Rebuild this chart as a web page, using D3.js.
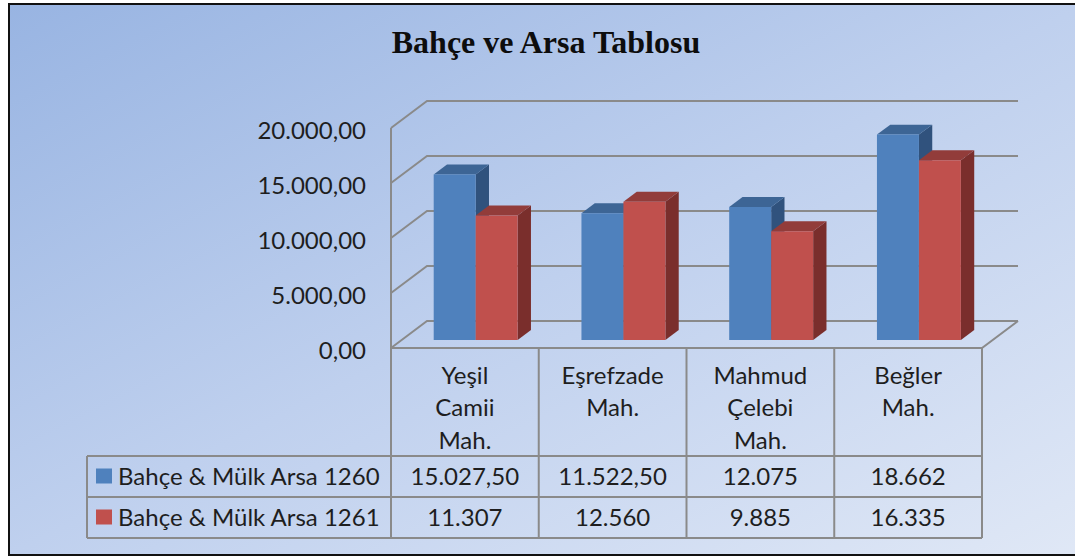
<!DOCTYPE html>
<html>
<head>
<meta charset="utf-8">
<script src="https://cdn.jsdelivr.net/npm/d3@7"></script>
<style>
  html, body { margin: 0; padding: 0; background: #ffffff; }
  svg { display: block; }
</style>
</head>
<body>
<svg id="chart" width="1075" height="556"></svg>
<script>
// Chart data
const title = "Bahçe ve Arsa Tablosu";
const categories = ["Yeşil Camii Mah.", "Eşrefzade Mah.", "Mahmud Çelebi Mah.", "Beğler Mah."];
const seriesNames = ["Bahçe & Mülk Arsa 1260", "Bahçe & Mülk Arsa 1261"];
const values1260 = [15027.5, 11522.5, 12075, 18662];
const values1261 = [11307, 12560, 9885, 16335];
const yTicks = [0, 5000, 10000, 15000, 20000];

const seriesValues = [values1260, values1261];
const palette = [
  { front: "#4f81bd", top: "#3d6595", side: "#30527d" },
  { front: "#c0504d", top: "#923c3a", side: "#7a2e2c" }
];

// Turkish number formatting (1.234,50)
const tr = d3.formatLocale({ decimal: ",", thousands: ".", grouping: [3], currency: ["", " ₺"] });
const axisFmt = tr.format(",.2f");
const cellFmt = v => (Number.isInteger(v) ? tr.format(",.0f")(v) : tr.format(",.2f")(v));

const svg = d3.select("#chart");
const FONT = "Lato, 'Open Sans', sans-serif";
const GRID = "#8a8a8a";

// Background with diagonal gradient and frame
const defs = svg.append("defs");
const bg = defs.append("linearGradient").attr("id", "bgGrad")
  .attr("x1", "0").attr("y1", "0").attr("x2", "1").attr("y2", "1");
bg.append("stop").attr("offset", "0").attr("stop-color", "#98b4e2");
bg.append("stop").attr("offset", "0.5").attr("stop-color", "#bfd0ee");
bg.append("stop").attr("offset", "1").attr("stop-color", "#e0e8f6");

svg.append("rect").attr("x", 9).attr("y", 4).attr("width", 1080).attr("height", 551)
  .attr("fill", "url(#bgGrad)").attr("stroke", "#111").attr("stroke-width", 2);

// Title
svg.append("text")
  .attr("x", 546).attr("y", 53)
  .attr("text-anchor", "middle")
  .style("font-family", "'Liberation Serif', 'Times New Roman', serif")
  .style("font-weight", "bold")
  .style("font-size", "32px")
  .attr("fill", "#0d0d0d")
  .text(title);

// 3D projection: front plane scales plus an oblique depth offset
const plotLeft = 391, plotRight = 982;
const DX = 36, DY = 27;
const y = d3.scaleLinear().domain([0, 20000]).range([348, 128]);
const x0 = d3.scaleBand().domain(categories).range([plotLeft, plotRight]).padding(0);
const x1 = d3.scaleBand().domain(seriesNames).range([0, x0.bandwidth()])
  .paddingInner(0).paddingOuter(0.76);
const proj = (x, v, z) => [x + z * DX, y(v) - z * DY];
const line = d3.line();

const walls = svg.append("g").attr("fill", "none").attr("stroke", GRID).attr("stroke-width", 2);

// Side wall diagonals and back wall gridlines
yTicks.forEach(t => {
  walls.append("path").attr("d", line([proj(plotLeft, t, 0), proj(plotLeft, t, 1), proj(plotRight, t, 1)]));
});
// Left front edge of the side wall
walls.append("path").attr("d", line([proj(plotLeft, d3.max(yTicks), 0), proj(plotLeft, 0, 0)]));
// Floor front edge and right diagonal
walls.append("path").attr("d", line([proj(plotLeft, 0, 0), proj(plotRight, 0, 0), proj(plotRight, 0, 1)]));

// Value axis labels on the front plane
const yAxis = d3.axisLeft(y).tickValues(yTicks).tickFormat(axisFmt).tickSize(0).tickPadding(25);
const axisG = svg.append("g").attr("transform", `translate(${plotLeft},0)`).call(yAxis);
axisG.select(".domain").remove();
axisG.selectAll("text")
  .attr("dy", "0.44em")
  .style("font-family", FONT).style("font-size", "24px").attr("fill", "#1e1e1e");

// Bars
const Z0 = 0.3, Z1 = 0.67;
const barsG = svg.append("g");
categories.forEach((cat, ci) => {
  seriesNames.forEach((s, si) => {
    const v = seriesValues[si][ci];
    const xa = x0(cat) + x1(s);
    const xb = xa + x1.bandwidth();
    const col = palette[si];
    const g = barsG.append("g");
    g.append("path").attr("fill", col.side)
      .attr("d", line([proj(xb, 0, Z0), proj(xb, v, Z0), proj(xb, v, Z1), proj(xb, 0, Z1)]) + "Z");
    g.append("path").attr("fill", col.top)
      .attr("d", line([proj(xa, v, Z0), proj(xb, v, Z0), proj(xb, v, Z1), proj(xa, v, Z1)]) + "Z");
    g.append("path").attr("fill", col.front)
      .attr("d", line([proj(xa, 0, Z0), proj(xb, 0, Z0), proj(xb, v, Z0), proj(xa, v, Z0)]) + "Z");
  });
});

// Data table under the plot
const tableLeft = 87;
const headTop = y(0), headBottom = 456, rowH = 41;
const rowTops = [headBottom, headBottom + rowH];
const tableBottom = headBottom + 2 * rowH;
const tbl = svg.append("g").attr("fill", "none").attr("stroke", GRID).attr("stroke-width", 2);

const colEdges = categories.map(c => x0(c)).concat([plotRight]);
colEdges.forEach(xe => {
  tbl.append("path").attr("d", line([[xe, headTop], [xe, tableBottom]]));
});
[headBottom, headBottom + rowH, tableBottom].forEach(yy => {
  tbl.append("path").attr("d", line([[tableLeft, yy], [plotRight, yy]]));
});
tbl.append("path").attr("d", line([[tableLeft, headBottom], [tableLeft, tableBottom]]));

const txt = svg.append("g").style("font-family", FONT).style("font-size", "24px").attr("fill", "#1e1e1e");

// Category headers, wrapped word by word
categories.forEach(cat => {
  const cx = x0(cat) + x0.bandwidth() / 2;
  cat.split(" ").forEach((w, li) => {
    txt.append("text").attr("x", cx).attr("y", 375 + li * 32.5)
      .attr("text-anchor", "middle").attr("dy", "0.36em").text(w);
  });
});

// Series rows: legend key, name, values
seriesNames.forEach((s, si) => {
  const mid = rowTops[si] + rowH / 2;
  svg.append("rect").attr("x", 96).attr("y", mid - 8).attr("width", 16).attr("height", 15)
    .attr("fill", palette[si].front);
  txt.append("text").attr("x", 118).attr("y", mid).attr("dy", "0.36em").text(s);
  categories.forEach((cat, ci) => {
    txt.append("text").attr("x", x0(cat) + x0.bandwidth() / 2).attr("y", mid)
      .attr("text-anchor", "middle").attr("dy", "0.36em")
      .text(cellFmt(seriesValues[si][ci]));
  });
});
</script>
</body>
</html>
